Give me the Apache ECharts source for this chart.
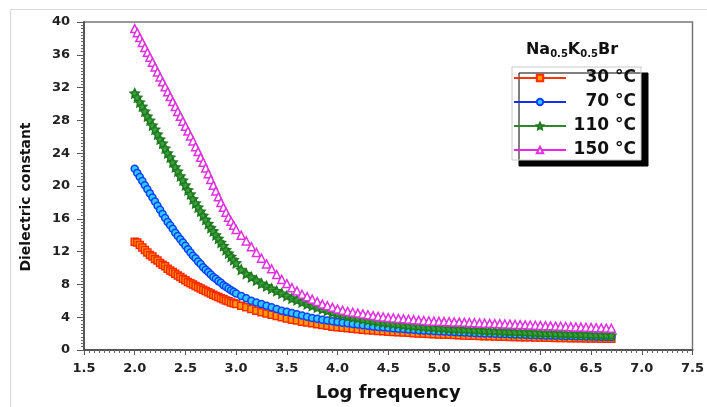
<!DOCTYPE html>
<html>
<head>
<meta charset="utf-8">
<script src="https://cdn.jsdelivr.net/npm/echarts@6/dist/echarts.min.js"></script>
<style>html,body{margin:0;padding:0;background:#fff}#c{width:707px;height:407px}</style>
</head>
<body>
<div id="c"></div>
<script>
// Log frequency values
const logFreq = [
2.000,2.025,2.050,2.075,2.100,2.125,2.150,2.175,2.200,2.225,2.250,2.275,2.300,2.325,2.350,2.375,2.400,2.425,2.450,2.475,
2.500,2.525,2.550,2.575,2.600,2.625,2.650,2.675,2.700,2.725,2.750,2.775,2.800,2.825,2.850,2.875,2.900,2.925,2.950,2.975,
3.00,3.05,3.10,3.15,3.20,3.25,3.30,3.35,3.40,3.45,3.50,3.55,3.60,3.65,3.70,3.75,3.80,3.85,3.90,3.95,
4.00,4.05,4.10,4.15,4.20,4.25,4.30,4.35,4.40,4.45,4.50,4.55,4.60,4.65,4.70,4.75,4.80,4.85,4.90,4.95,
5.00,5.05,5.10,5.15,5.20,5.25,5.30,5.35,5.40,5.45,5.50,5.55,5.60,5.65,5.70,5.75,5.80,5.85,5.90,5.95,
6.00,6.05,6.10,6.15,6.20,6.25,6.30,6.35,6.40,6.45,6.50,6.55,6.60,6.65,6.70];

const eps30 = [
13.2,13.1,12.8,12.5,12.2,11.9,11.6,11.4,11.1,10.9,10.6,10.4,10.2,9.9,9.7,9.5,9.3,9.1,8.9,8.7,
8.5,8.3,8.15,8.0,7.8,7.65,7.5,7.35,7.2,7.05,6.9,6.75,6.6,6.45,6.3,6.2,6.05,5.95,5.8,5.7,
5.6,5.4,5.2,5.0,4.8,4.6,4.45,4.3,4.15,4.0,3.85,3.7,3.6,3.45,3.35,3.25,3.15,3.05,2.95,2.85,
2.78,2.71,2.64,2.58,2.52,2.47,2.42,2.37,2.32,2.28,2.24,2.2,2.16,2.12,2.09,2.05,2.02,1.99,1.96,1.93,
1.9,1.87,1.85,1.82,1.8,1.77,1.75,1.73,1.71,1.69,1.67,1.65,1.63,1.61,1.6,1.58,1.57,1.55,1.54,1.52,
1.51,1.5,1.48,1.47,1.46,1.45,1.44,1.43,1.42,1.41,1.4,1.39,1.38,1.37,1.36];

const eps70 = [
22.1,21.6,21.1,20.6,20.1,19.6,19.1,18.6,18.1,17.6,17.1,16.6,16.1,15.6,15.2,14.8,14.3,13.9,13.5,13.1,
12.7,12.3,11.9,11.5,11.2,10.8,10.5,10.1,9.8,9.5,9.2,8.9,8.7,8.4,8.2,7.9,7.7,7.5,7.3,7.1,
6.9,6.6,6.3,6.0,5.8,5.6,5.4,5.2,5.0,4.8,4.65,4.5,4.35,4.2,4.05,3.9,3.8,3.7,3.6,3.5,
3.4,3.32,3.25,3.17,3.1,3.02,2.95,2.88,2.82,2.76,2.7,2.65,2.6,2.55,2.5,2.46,2.42,2.38,2.35,2.31,
2.28,2.25,2.22,2.19,2.16,2.13,2.1,2.07,2.05,2.02,2.0,1.98,1.96,1.94,1.92,1.9,1.88,1.86,1.84,1.82,
1.8,1.78,1.77,1.75,1.74,1.72,1.71,1.69,1.68,1.66,1.65,1.63,1.62,1.61,1.6];

const eps110 = [
31.3,30.8,30.2,29.7,29.1,28.5,28.0,27.4,26.9,26.3,25.7,25.2,24.6,24.0,23.5,22.9,22.3,21.8,21.2,20.7,
20.1,19.5,19.0,18.4,17.9,17.4,16.9,16.4,15.9,15.4,14.9,14.5,14.0,13.6,13.1,12.7,12.2,11.8,11.4,11.0,
10.6,9.8,9.3,8.9,8.5,8.1,7.8,7.5,7.2,6.9,6.6,6.3,6.1,5.85,5.6,5.4,5.2,5.0,4.8,4.6,
4.45,4.3,4.15,4.02,3.9,3.77,3.65,3.55,3.45,3.37,3.3,3.22,3.15,3.07,3.0,2.95,2.9,2.85,2.8,2.75,
2.7,2.66,2.62,2.58,2.55,2.51,2.48,2.45,2.42,2.39,2.36,2.33,2.3,2.27,2.25,2.22,2.2,2.17,2.15,2.12,
2.1,2.07,2.05,2.02,2.0,1.98,1.96,1.94,1.92,1.9,1.88,1.86,1.84,1.82,1.8];

const eps150 = [
39.2,38.7,38.1,37.5,36.9,36.3,35.7,35.1,34.5,33.9,33.3,32.7,32.1,31.5,30.9,30.3,29.7,29.1,28.5,27.9,
27.3,26.7,26.1,25.5,24.8,24.2,23.5,22.9,22.2,21.5,20.8,20.1,19.4,18.7,18.0,17.4,16.8,16.2,15.7,15.2,
14.7,14.0,13.3,12.6,11.9,11.2,10.5,9.9,9.2,8.6,8.1,7.6,7.2,6.8,6.5,6.2,5.9,5.6,5.4,5.2,
5.0,4.85,4.7,4.6,4.5,4.4,4.3,4.2,4.1,4.02,3.95,3.9,3.85,3.8,3.75,3.7,3.65,3.6,3.55,3.52,
3.5,3.47,3.45,3.42,3.4,3.37,3.35,3.32,3.3,3.27,3.25,3.22,3.2,3.17,3.15,3.12,3.1,3.07,3.05,3.02,
3.0,2.97,2.95,2.92,2.9,2.87,2.85,2.82,2.8,2.77,2.75,2.72,2.7,2.67,2.65];

const seriesNames = ['30 °C', '70 °C', '110 °C', '150 °C'];
const xTicks = {min: 1.5, max: 7.5, interval: 0.5};
const yTicks = {min: 0, max: 40, interval: 4};

const star = 'path://M0,-10 L2.9,-4 L9.5,-3.1 L4.7,1.5 L5.9,8.1 L0,5 L-5.9,8.1 L-4.7,1.5 L-9.5,-3.1 L-2.9,-4 Z';
const styles = [
  {symbol: 'rect', size: 7, line: '#ff3300', fill: '#ff9a00', border: '#ff2a00'},
  {symbol: 'circle', size: 7, line: '#1030ff', fill: '#30c8ff', border: '#1040ff'},
  {symbol: star, size: 9, line: '#2a8a2a', fill: '#3aa03a', border: '#1f7a1f'},
  {symbol: 'triangle', size: 8, line: '#ee22ee', fill: '#ffffff', border: '#e030e0'}
];
const values = [eps30, eps70, eps110, eps150];

const font = 'DejaVu Sans';
const chart = echarts.init(document.getElementById('c'), null, {renderer: 'canvas'});
chart.setOption({
  animation: false,
  backgroundColor: '#fff',
  grid: {left: 84, right: 11, top: 22, bottom: 54, show: true, borderColor: '#777', borderWidth: 1.5, backgroundColor: 'transparent'},
  graphic: [
    {type: 'rect', shape: {x: 10.5, y: 9.5, width: 720, height: 420}, style: {fill: 'none', stroke: '#d8d8d8', lineWidth: 1}, silent: true, z: -1},
    {type: 'text', x: 572, y: 50, style: {
      text: '{b|Na}{s|0.5}{b|K}{s|0.5}{b|Br}',
      align: 'center', verticalAlign: 'middle',
      rich: {
        b: {fontFamily: font, fontWeight: 'bold', fontSize: 16, fill: '#111'},
        s: {fontFamily: font, fontWeight: 'bold', fontSize: 10, fill: '#111', padding: [9, 0, 0, 0]}
      }
    }}
  ],
  legend: {
    orient: 'vertical', left: 512, top: 67,
    itemWidth: 52, itemHeight: 8, itemGap: 6,
    padding: [2, 5, 1, 1],
    backgroundColor: '#fff', borderColor: '#c8c8c8', borderWidth: 1,
    shadowColor: '#000', shadowBlur: 0, shadowOffsetX: 7, shadowOffsetY: 6,
    data: seriesNames,
    formatter: n => '{a|' + n + '}',
    textStyle: {rich: {a: {width: 65, height: 18, lineHeight: 18, align: 'right', fontFamily: font, fontWeight: 'bold', fontSize: 17, color: '#111'}}}
  },
  xAxis: {
    type: 'value', min: xTicks.min, max: xTicks.max, interval: xTicks.interval,
    name: 'Log frequency', nameLocation: 'middle', nameGap: 34,
    nameTextStyle: {fontFamily: font, fontWeight: 'bold', fontSize: 18, color: '#111'},
    axisLine: {lineStyle: {color: '#555', width: 2}},
    axisTick: {show: true, length: 5, lineStyle: {color: '#555'}},
    minorTick: {show: true, splitNumber: 10, length: 3, lineStyle: {color: '#666'}},
    splitLine: {show: false},
    axisLabel: {margin: 12, fontFamily: font, fontWeight: 'bold', fontSize: 13, color: '#222', formatter: v => v.toFixed(1)}
  },
  yAxis: {
    type: 'value', min: yTicks.min, max: yTicks.max, interval: yTicks.interval,
    name: 'Dielectric constant', nameLocation: 'middle', nameGap: 51,
    nameTextStyle: {fontFamily: font, fontWeight: 'bold', fontSize: 14, color: '#111', padding: [0, 22, 0, 0]},
    axisLine: {lineStyle: {color: '#555', width: 2}},
    axisTick: {show: true, length: 7, lineStyle: {color: '#555'}},
    minorTick: {show: true, splitNumber: 10, length: 3, lineStyle: {color: '#666'}},
    splitLine: {show: false},
    axisLabel: {margin: 14, fontFamily: font, fontWeight: 'bold', fontSize: 13, color: '#222'}
  },
  series: values.map((arr, k) => ({
    type: 'line', name: seriesNames[k],
    data: logFreq.map((x, i) => [x, arr[i]]),
    symbol: styles[k].symbol, symbolSize: styles[k].size, showAllSymbol: true,
    lineStyle: {color: styles[k].line, width: 2},
    itemStyle: {color: styles[k].fill, borderColor: styles[k].border, borderWidth: 1.5},
    z: 2 + k
  }))
});
</script>
</body>
</html>
